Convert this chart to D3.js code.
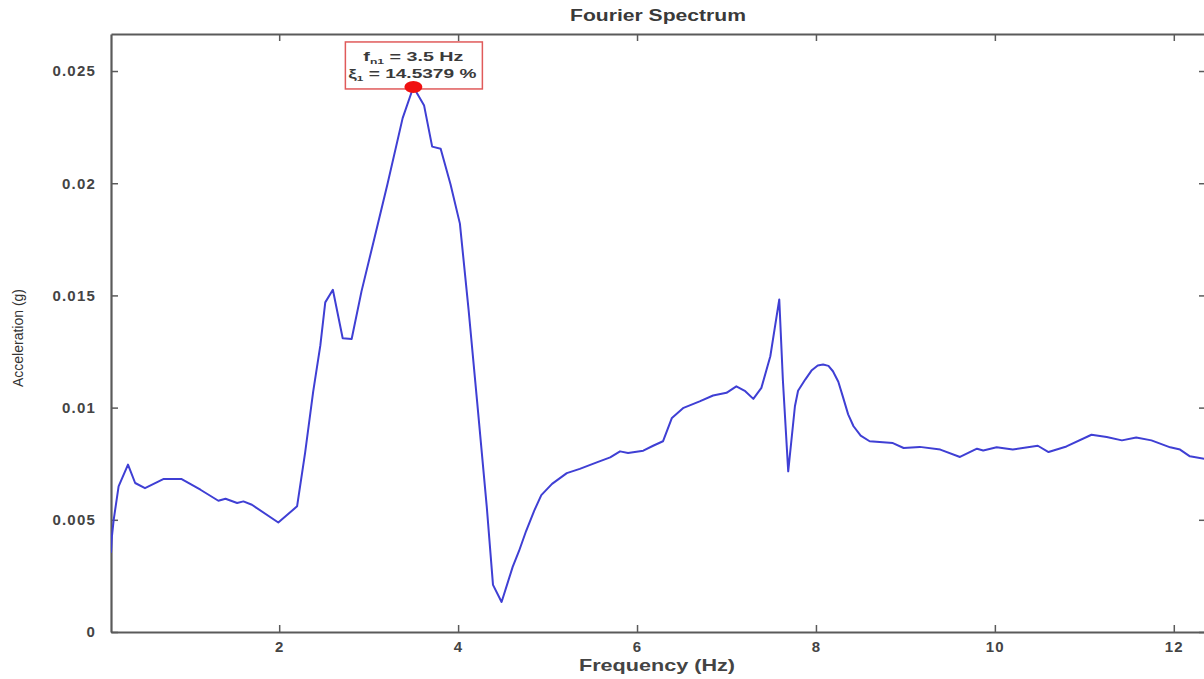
<!DOCTYPE html>
<html>
<head>
<meta charset="utf-8">
<script src="https://cdn.jsdelivr.net/npm/d3@7"></script>
<style>
	body { margin: 0; background: #fff; }
	svg { display: block; font-family: "Liberation Sans", Arial, sans-serif; }
	.axis path, .axis line { stroke: #5a5a5a; }
	.axis text { fill: #444; font-size: 15px; font-weight: bold; letter-spacing: 1.2px; }
</style>
</head>
<body>
<svg id="chart" width="1204" height="679"></svg>
<script>
const WIDTH = 1204,
	  HEIGHT = 679;

// frequency (Hz) and spectrum amplitude (g)
const freq = [0.12, 0.13, 0.15, 0.205, 0.31, 0.39, 0.50, 0.71, 0.905, 1.12,
	1.32, 1.40, 1.53, 1.60, 1.695, 1.99, 2.20, 2.29, 2.38, 2.46,
	2.515, 2.60, 2.71, 2.81, 2.92, 3.065, 3.21, 3.38, 3.5, 3.62,
	3.71, 3.805, 3.915, 4.02, 4.117, 4.21, 4.32, 4.39, 4.486, 4.61,
	4.68, 4.76, 4.85, 4.93, 5.05, 5.215, 5.36, 5.55, 5.70, 5.81,
	5.90, 6.07, 6.18, 6.29, 6.39, 6.52, 6.70, 6.85, 7.00, 7.11,
	7.21, 7.30, 7.39, 7.49, 7.59, 7.63, 7.69, 7.765, 7.80, 7.88,
	7.95, 8.02, 8.08, 8.14, 8.19, 8.25, 8.30, 8.36, 8.42, 8.50,
	8.60, 8.86, 8.98, 9.16, 9.39, 9.61, 9.80, 9.87, 10.02, 10.20,
	10.48, 10.60, 10.80, 11.08, 11.25, 11.42, 11.58, 11.75, 11.96, 12.07,
	12.18, 12.34];

const accel = [0.00353, 0.00425, 0.0050, 0.00649, 0.00746, 0.00664, 0.00641, 0.00682, 0.00682, 0.00634,
	0.00585, 0.00594, 0.00575, 0.00582, 0.00567, 0.00488, 0.00560, 0.00799, 0.01071, 0.01277,
	0.01469, 0.01525, 0.01309, 0.01306, 0.01518, 0.01756, 0.01995, 0.0229, 0.02429, 0.02346,
	0.02163, 0.02154, 0.01995, 0.0182, 0.01437, 0.01038, 0.0056, 0.0021, 0.00134, 0.0029,
	0.0036, 0.0045, 0.0054, 0.0061, 0.0066, 0.00708, 0.00727, 0.00756, 0.00778, 0.00805,
	0.00798, 0.00808, 0.0083, 0.0085, 0.00954, 0.00999, 0.01028, 0.01054, 0.01066, 0.01095,
	0.01073, 0.01039, 0.01088, 0.01229, 0.01482, 0.01125, 0.00716, 0.01006, 0.01075, 0.01125,
	0.01165, 0.01188, 0.01192, 0.01186, 0.01162, 0.01115, 0.0105, 0.0097, 0.00917, 0.00875,
	0.0085, 0.00842, 0.0082, 0.00825, 0.00813, 0.0078, 0.00817, 0.00809, 0.00823, 0.00813,
	0.0083, 0.00802, 0.00827, 0.00879, 0.00869, 0.00854, 0.00867, 0.00854, 0.00823, 0.00813,
	0.00783, 0.00772];

const xTicks = [2, 4, 6, 8, 10, 12],
	  yTicks = [0, 0.005, 0.01, 0.015, 0.02, 0.025];

// identified mode
const peakFreq = 3.5,
	  peakAccel = 0.02429,
	  damping = 14.5379;

let margin = {top: 34, right: -2, bottom: 47, left: 111};

let svg = d3.select("#chart");

let x = d3.scaleLinear()
		.domain([0.12, 12.36])
		.range([margin.left, WIDTH - margin.right]);

let y = d3.scaleLinear()
		.domain([0, 0.02665])
		.range([HEIGHT - margin.bottom, margin.top]);

svg.append("rect")
		.attr("width", WIDTH)
		.attr("height", HEIGHT)
		.attr("fill", "#fff");

// MATLAB-style inward ticks on all four sides
svg.append("g")
		.attr("class", "axis")
		.attr("transform", "translate(0," + y.range()[0] + ")")
		.call(d3.axisBottom(x).tickValues(xTicks).tickSizeInner(-7).tickSizeOuter(0).tickPadding(9).tickFormat(d3.format("d")));

svg.append("g")
		.attr("class", "axis")
		.attr("transform", "translate(0," + y.range()[1] + ")")
		.call(d3.axisTop(x).tickValues(xTicks).tickSizeInner(-7).tickSizeOuter(0).tickFormat(""));

svg.append("g")
		.attr("class", "axis")
		.attr("transform", "translate(" + x.range()[0] + ",0)")
		.call(d3.axisLeft(y).tickValues(yTicks).tickSizeInner(-7).tickSizeOuter(0).tickPadding(15).tickFormat(d => d == 0 ? "0" : d3.format("")(d)));

svg.append("g")
		.attr("class", "axis")
		.attr("transform", "translate(" + x.range()[1] + ",0)")
		.call(d3.axisRight(y).tickValues(yTicks).tickSizeInner(-7).tickSizeOuter(0).tickFormat(""));

svg.selectAll(".axis path").attr("stroke-width", 2.2);
svg.selectAll(".axis line").attr("stroke-width", 1.5);

// clip the spectrum to the axes box
svg.append("clipPath")
		.attr("id", "plot-area")
	.append("rect")
		.attr("x", x.range()[0])
		.attr("y", y.range()[1])
		.attr("width", x.range()[1] - x.range()[0])
		.attr("height", y.range()[0] - y.range()[1]);

let line = d3.line()
		.x(i => x(freq[i]))
		.y(i => y(accel[i]));

svg.append("path")
		.attr("clip-path", "url(#plot-area)")
		.attr("d", line(d3.range(freq.length)))
		.attr("fill", "none")
		.attr("stroke", "#3f3fd4")
		.attr("stroke-width", 2)
		.attr("stroke-linejoin", "round");

// annotation box
let bx = x(peakFreq), by = y(peakAccel);

svg.append("rect")
		.attr("x", bx - 68)
		.attr("y", by - 45)
		.attr("width", 137)
		.attr("height", 47)
		.attr("fill", "#fff")
		.attr("stroke", "#e05a5a")
		.attr("stroke-width", 1.5);

let note = svg.append("g")
		.attr("fill", "#3a3a3a")
		.style("font-size", "13px")
		.style("font-weight", "bold")
		.attr("text-anchor", "middle");

let l1 = note.append("text")
		.attr("x", bx)
		.attr("y", by - 26)
		.attr("textLength", 100)
		.attr("lengthAdjust", "spacingAndGlyphs");
l1.append("tspan").text("f");
l1.append("tspan").attr("dy", 3).style("font-size", "8px").text("n1");
l1.append("tspan").attr("dy", -3).text(" = " + peakFreq + " Hz");

let l2 = note.append("text")
		.attr("x", bx - 1)
		.attr("y", by - 9)
		.attr("textLength", 128)
		.attr("lengthAdjust", "spacingAndGlyphs");
l2.append("tspan").text("\u03be");
l2.append("tspan").attr("dy", 3).style("font-size", "8px").text("1");
l2.append("tspan").attr("dy", -3).text(" = " + damping + " %");

svg.append("ellipse")
		.attr("cx", bx)
		.attr("cy", by)
		.attr("rx", 9)
		.attr("ry", 6)
		.attr("fill", "#f01010");

// titles
svg.append("text")
		.attr("x", 658)
		.attr("y", 21)
		.attr("text-anchor", "middle")
		.attr("textLength", 176)
		.attr("lengthAdjust", "spacingAndGlyphs")
		.style("font-size", "16px")
		.style("font-weight", "bold")
		.attr("fill", "#3a3a3a")
		.text("Fourier Spectrum");

svg.append("text")
		.attr("x", 657)
		.attr("y", 671)
		.attr("text-anchor", "middle")
		.attr("textLength", 156)
		.attr("lengthAdjust", "spacingAndGlyphs")
		.style("font-size", "17px")
		.style("font-weight", "bold")
		.attr("fill", "#444")
		.text("Frequency (Hz)");

svg.append("text")
		.attr("transform", "translate(23,338) rotate(-90)")
		.attr("text-anchor", "middle")
		.style("font-size", "14px")
		.attr("fill", "#333")
		.text("Acceleration (g)");
</script>
</body>
</html>
